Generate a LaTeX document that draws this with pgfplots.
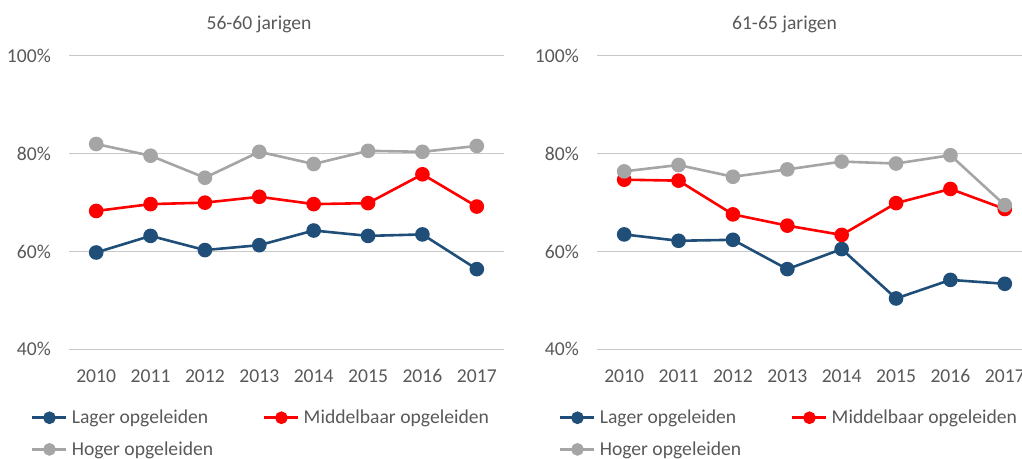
\documentclass[border=0pt]{standalone}
\usepackage{fontspec}
\setmainfont{Carlito}
\usepackage{pgfplots}
\pgfplotsset{compat=1.18}
\definecolor{cblue}{HTML}{1F4E79}
\definecolor{cred}{HTML}{FF0000}
\definecolor{cgrey}{HTML}{A5A5A5}
\definecolor{ctext}{HTML}{595959}
\definecolor{cgrid}{HTML}{C8C8C8}
\newcommand{\cfont}{\fontsize{19.7}{23}\selectfont}
\pgfplotsset{
 myaxis/.style={
  scale only axis, width=435bp, height=293.3bp,
  xmin=-0.5, xmax=7.5, ymin=40, ymax=100,
  xtick={0,1,2,3,4,5,6,7},
  xticklabels={2010,2011,2012,2013,2014,2015,2016,2017},
  ytick={40,60,80,100},
  yticklabel={\pgfmathprintnumber{\tick}\%},
  axis line style={draw=none},
  major tick length=0pt,
  ymajorgrids, grid style={cgrid, line width=1bp},
  tick label style={font=\cfont, text=ctext},
  /pgf/number format/assume math mode=true,
  yticklabel style={anchor=east, inner sep=0pt, xshift=-18bp},
  xticklabel style={anchor=north, inner sep=0pt, yshift=-20bp},
  clip=false,
  every axis plot/.append style={line width=2.6bp, mark=*, mark size=6bp, mark options={solid}},
  legend columns=2,
  legend cell align=left,
  legend style={draw=none, fill=none, inner sep=0pt, font=\cfont, text=ctext,
    at={(-0.0874,-0.207)}, anchor=north west,
    nodes={inner sep=0pt, anchor=west}, row sep=16.5bp,
    /tikz/column 1/.style={column sep=4bp},
    /tikz/column 2/.style={column sep=50bp},
    /tikz/column 3/.style={column sep=4bp}},
  legend image code/.code={\draw[mark repeat=2, mark phase=2, mark size=5bp] plot coordinates {(0bp,0bp)(17bp,0bp)(34bp,0bp)};},
 }
}
\begin{document}
\begin{tikzpicture}
\useasboundingbox (0bp,0bp) rectangle (1022bp,459bp);
\begin{axis}[myaxis, at={(69bp,109.7bp)}, anchor=south west]
\addplot[cblue] coordinates {(0,59.8)(1,63.2)(2,60.3)(3,61.3)(4,64.3)(5,63.2)(6,63.5)(7,56.4)};
\addlegendentry{Lager opgeleiden}
\addplot[cred] coordinates {(0,68.3)(1,69.7)(2,70.0)(3,71.2)(4,69.7)(5,69.9)(6,75.8)(7,69.2)};
\addlegendentry{Middelbaar opgeleiden}
\addplot[cgrey] coordinates {(0,82.0)(1,79.6)(2,75.1)(3,80.4)(4,77.9)(5,80.6)(6,80.4)(7,81.6)};
\addlegendentry{Hoger opgeleiden}
\end{axis}
\begin{axis}[myaxis, at={(597bp,109.7bp)}, anchor=south west]
\addplot[cblue] coordinates {(0,63.5)(1,62.2)(2,62.4)(3,56.4)(4,60.5)(5,50.4)(6,54.2)(7,53.4)};
\addlegendentry{Lager opgeleiden}
\addplot[cred] coordinates {(0,74.7)(1,74.5)(2,67.6)(3,65.3)(4,63.4)(5,69.9)(6,72.8)(7,68.7)};
\addlegendentry{Middelbaar opgeleiden}
\addplot[cgrey] coordinates {(0,76.4)(1,77.7)(2,75.3)(3,76.8)(4,78.4)(5,78.0)(6,79.7)(7,69.5)};
\addlegendentry{Hoger opgeleiden}
\end{axis}
\node[anchor=base, font=\cfont, text=ctext] at (259bp,429bp) {56-60 jarigen};
\node[anchor=base, font=\cfont, text=ctext] at (784.5bp,429bp) {61-65 jarigen};
\end{tikzpicture}
\end{document}
